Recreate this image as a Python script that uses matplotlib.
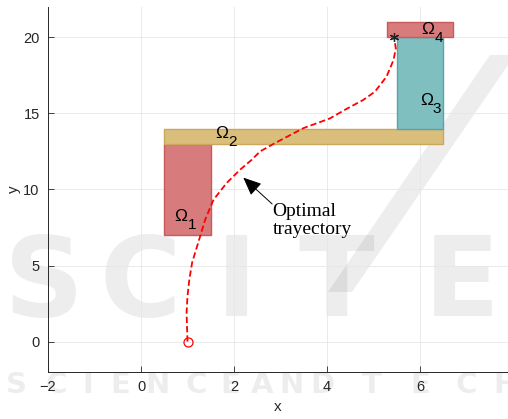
import matplotlib
matplotlib.use("Agg")
import matplotlib.pyplot as plt
from matplotlib.patches import Rectangle, Polygon
from matplotlib.transforms import offset_copy

# ---- data -------------------------------------------------------------
# optimal trajectory samples (x, y)
traj_x = [1.00, 0.98, 1.00, 1.04, 1.10, 1.18, 1.23, 1.38, 1.56, 1.84, 2.13,
          2.38, 2.56, 2.88, 3.49, 4.06, 4.42, 4.78, 5.03, 5.28, 5.43, 5.48, 5.44]
traj_y = [0.00, 1.90, 3.00, 4.10, 5.20, 6.00, 6.50, 8.02, 9.33, 10.42, 11.30,
          11.95, 12.50, 13.05, 14.03, 14.67, 15.30, 15.89, 16.43, 17.42, 18.51,
          19.28, 20.04]

# regions: (x0, x1, y0, y1)
region_names = ["1", "2", "3", "4"]
region_x0 = [0.5, 0.5, 5.5, 5.3]
region_x1 = [1.5, 6.5, 6.5, 6.7]
region_y0 = [7.0, 13.0, 14.0, 20.0]
region_y1 = [13.0, 14.0, 20.0, 21.0]

x_ticks = [-2, 0, 2, 4, 6]
y_ticks = [0, 5, 10, 15, 20]

# ---- styling ----------------------------------------------------------
region_face = ["#D87B7C", "#D9BE7C", "#7FBFC0", "#D87B7C"]
region_edge = ["#C85A5C", "#CBA75E", "#56A6A7", "#C85A5C"]
label_pos = [(0.72, 7.95), (1.59, 13.38), (6.00, 15.56), (6.03, 20.22)]

plt.rcParams["lines.scale_dashes"] = False
fig = plt.figure(figsize=(5.08, 4.19), dpi=100)
fig.patch.set_facecolor("white")

# faint publisher mark in the background
wm = dict(color="black", alpha=0.07, fontweight="bold", family="DejaVu Sans",
          ha="center", va="center", zorder=-5)
for ch, cx in zip("SCITE", [44, 140, 236, 336, 462]):
    fig.text(cx / 508, 1 - 285 / 419, ch, fontsize=80, **wm)
bottom_word = "SCIENCE AND TECH"
bottom_cx = [16, 56, 88, 120, 158, 196, 230, None, 262, 292, 322, None, 372,
             420, 466, 506]
for ch, cx in zip(bottom_word, bottom_cx):
    if cx is not None:
        fig.text(cx / 508, 1 - 385 / 419, ch, fontsize=21, **wm)
slash = Polygon([(490 / 508, 1 - 55 / 419), (515 / 508, 1 - 55 / 419),
                 (352 / 508, 1 - 292 / 419), (328 / 508, 1 - 292 / 419)],
                closed=True, transform=fig.transFigure, facecolor="black",
                alpha=0.07, edgecolor="none", zorder=-5)
fig.patches.append(slash)

ax = fig.add_axes([48 / 508, 47 / 419, 460 / 508, 365 / 419])
ax.set_facecolor("none")
ax.set_xlim(-2, -2 + 460 / 46.5)
ax.set_ylim(-2, 22)
ax.set_xticks(x_ticks)
ax.set_yticks(y_ticks)
ax.grid(True, color="#e6e6e6", linewidth=0.6)
ax.set_axisbelow(True)
for s in ["top", "right"]:
    ax.spines[s].set_visible(False)
for s in ["left", "bottom"]:
    ax.spines[s].set_color("#262626")
    ax.spines[s].set_linewidth(0.7)
ax.tick_params(direction="in", length=4, width=0.6, color="#262626",
               labelcolor="#262626", labelsize=10.5, pad=6)
for lab in ax.get_xticklabels() + ax.get_yticklabels():
    lab.set_family("Liberation Sans")
ax.set_xlabel("x", family="Liberation Sans", fontsize=11, color="#262626", labelpad=4)
ax.set_ylabel("y", family="Liberation Sans", fontsize=11, color="#262626", labelpad=2)

# regions
for i in range(len(region_names)):
    ax.add_patch(Rectangle((region_x0[i], region_y0[i]),
                           region_x1[i] - region_x0[i],
                           region_y1[i] - region_y0[i],
                           facecolor=region_face[i], edgecolor=region_edge[i],
                           linewidth=1.0, zorder=2))
    lx, ly = label_pos[i]
    ax.text(lx, ly, "\u03A9", family="Liberation Sans", fontsize=12.5,
            ha="left", va="baseline", zorder=5)
    sub_tr = offset_copy(ax.transData, fig=fig, x=9.3, y=-6.0, units="points")
    ax.text(lx, ly, region_names[i], family="Liberation Sans", fontsize=11,
            ha="left", va="baseline", transform=sub_tr, zorder=5)

# trajectory
line, = ax.plot(traj_x, traj_y, color="red", linewidth=1.3, linestyle="--",
                zorder=4)
line.set_dashes([4.5, 2.2])
ax.plot(traj_x[0], traj_y[0], marker="o", markersize=6.5, markerfacecolor="none",
        markeredgecolor="red", markeredgewidth=0.9, linestyle="none", zorder=5)
ax.plot(traj_x[-1], traj_y[-1], marker=(6, 2, 0), markersize=6.5,
        markeredgecolor="#222222", markeredgewidth=0.9, linestyle="none", zorder=5)

# annotation
ax.annotate("", xy=(2.20, 10.78), xytext=(2.82, 9.05),
            arrowprops=dict(arrowstyle="-|>,head_length=0.8,head_width=0.35",
                            color="black", linewidth=0.7, mutation_scale=14,
                            shrinkA=0, shrinkB=0), zorder=6)
ax.text(2.83, 9.12, "Optimal\ntrayectory", family="Liberation Serif",
        fontsize=14, ha="left", va="top", linespacing=1.05, zorder=6)

fig.savefig("out.png", dpi=100, facecolor="white")
